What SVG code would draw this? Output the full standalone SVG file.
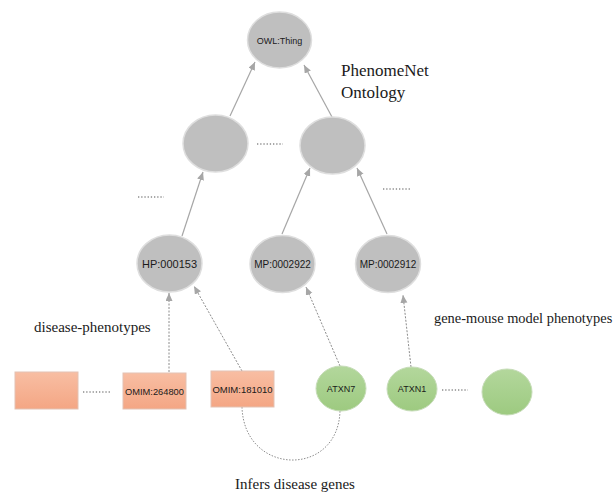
<svg xmlns="http://www.w3.org/2000/svg" width="614" height="495" viewBox="0 0 614 495">
<style>
.gray{fill:#bfbfbf;stroke:#dedede;stroke-width:1.5}
.rect{fill:url(#gOr);stroke:#e3c2b3;stroke-width:1}
.green{fill:url(#gGr);stroke:#c6dcb8;stroke-width:1}
.lbl{font-family:"Liberation Sans",Arial,sans-serif;fill:#1a1a1a;text-anchor:middle}
.ser{font-family:"Liberation Serif","Times New Roman",serif;fill:#1a1a1a}
.solid{stroke:#a6a6a6;stroke-width:1.2;fill:none;marker-end:url(#ah)}
.dash{stroke:#8c8c8c;stroke-width:1;stroke-dasharray:2 1.5;fill:none;marker-end:url(#ah)}
.dots{stroke:#8c8c8c;stroke-width:1.3;stroke-dasharray:1.3 1.9;fill:none}
</style>
<defs>
<linearGradient id="gOr" x1="0" y1="0" x2="0" y2="1">
<stop offset="0" stop-color="#f8bea3"/><stop offset="1" stop-color="#f4a684"/>
</linearGradient>
<linearGradient id="gGr" x1="0" y1="0" x2="0" y2="1">
<stop offset="0" stop-color="#b3d79c"/><stop offset="1" stop-color="#9dca80"/>
</linearGradient>
<marker id="ah" markerWidth="9" markerHeight="8" refX="8" refY="3.5" orient="auto" markerUnits="userSpaceOnUse">
<path d="M0,0 L8,3.5 L0,7 z" fill="#a6a6a6"/>
</marker>
</defs>
<g id="connectors">
<path class="solid" d="M230,116 L255,62"/>
<path class="solid" d="M332,117 L304,65"/>
<path class="solid" d="M182,236 L203,172"/>
<path class="solid" d="M282,234 L310,168"/>
<path class="solid" d="M387,234 L357,168"/>
<path class="dash" d="M169,372 L169,293"/>
<path class="dash" d="M242,371 L194,286"/>
<path class="dash" d="M340,366 L306,287"/>
<path class="dash" d="M411,367 L403,295"/>
<path class="dash" d="M242,407 C244,476 338,478 340,411" style="marker-end:none;stroke-dasharray:1.5 1.5"/>
</g>
<g id="dots">
<path class="dots" d="M257,144 H283"/>
<path class="dots" d="M138,197 H164"/>
<path class="dots" d="M383,189 H410"/>
<path class="dots" d="M83,392 H110"/>
<path class="dots" d="M442,390 H468"/>
</g>
<g id="owl-thing"><ellipse class="gray" cx="279.5" cy="40" rx="32" ry="28"/><text class="lbl" x="279.5" y="43.5" font-size="9">OWL:Thing</text></g>
<g id="mid-left"><ellipse class="gray" cx="215.5" cy="143.5" rx="32.5" ry="28.5"/></g>
<g id="mid-right"><ellipse class="gray" cx="332.5" cy="145.5" rx="32.5" ry="28.5"/></g>
<g id="hp000153"><ellipse class="gray" cx="169.5" cy="263.5" rx="32.5" ry="28.5"/><text class="lbl" x="169.5" y="267.5" font-size="11">HP:000153</text></g>
<g id="mp0002922"><ellipse class="gray" cx="282.5" cy="264" rx="32.5" ry="28.5"/><text class="lbl" x="282.5" y="267.5" font-size="10">MP:0002922</text></g>
<g id="mp0002912"><ellipse class="gray" cx="388" cy="264" rx="32.5" ry="28.5"/><text class="lbl" x="388" y="267.5" font-size="10">MP:0002912</text></g>
<g id="omim-blank"><rect class="rect" x="15" y="372" width="63" height="37"/></g>
<g id="omim264800"><rect class="rect" x="123" y="373" width="63" height="36"/><text class="lbl" x="154.5" y="394.5" font-size="9.3">OMIM:264800</text></g>
<g id="omim181010"><rect class="rect" x="211" y="371" width="63" height="36"/><text class="lbl" x="242.5" y="392.5" font-size="9.5">OMIM:181010</text></g>
<g id="atxn7"><ellipse class="green" cx="341" cy="388.5" rx="25" ry="22.5"/><text class="lbl" x="341" y="392" font-size="9">ATXN7</text></g>
<g id="atxn1"><ellipse class="green" cx="412" cy="389" rx="25" ry="22"/><text class="lbl" x="412" y="392" font-size="9">ATXN1</text></g>
<g id="gene-blank"><ellipse class="green" cx="507" cy="392" rx="25" ry="23"/></g>
<g id="labels">
<text class="ser" x="341" y="76" font-size="17">PhenomeNet</text>
<text class="ser" x="341" y="98" font-size="17">Ontology</text>
<text class="ser" x="34" y="332" font-size="15">disease-phenotypes</text>
<text class="ser" x="434" y="323" font-size="14.4">gene-mouse model phenotypes</text>
<text class="ser" x="235" y="489" font-size="15">Infers disease genes</text>
</g>
</svg>
